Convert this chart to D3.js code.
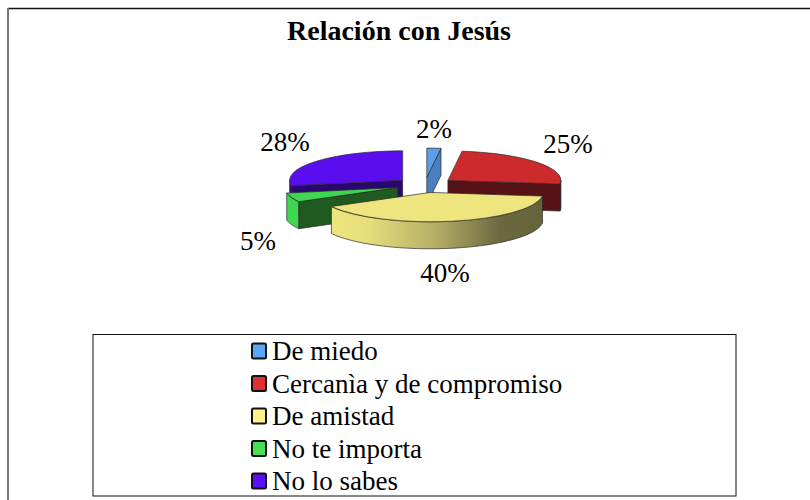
<!DOCTYPE html>
<html><head><meta charset="utf-8">
<script src="https://cdnjs.cloudflare.com/ajax/libs/d3/7.8.5/d3.min.js"></script>
<style>html,body{margin:0;padding:0;background:#fff}svg{display:block}text{font-family:"Liberation Serif","Times New Roman",serif;fill:#000}</style>
</head><body><svg id="c" width="810" height="500"></svg>
<script>
const title = "Relación con Jesús";
const categories = ["De miedo","Cercanìa y de compromiso","De amistad","No te importa","No lo sabes"];
const values = [2,25,40,5,28];
const valueLabels = ["2%","25%","40%","5%","28%"];
const topColors = ["#5B9FEA","#CC2A2D","#EEE57F","#3FD650","#5A0EF0"];
const cutColors = ["#4A80C2","#561214","#66623A","#1F5B21","#2A0770"];
const wallColors = ["#4A80C2","#561214","url(#yw)","#3FD650","#2A0770"];
const legendColors = ["#5AA5F5","#E02F33","#FFF28A","#48DE55","#5A10F8"];
const drawOrder = [4,0,1,3,2];
const labelCenters = [[434,129],[568,144],[445,273],[258,241],[285,142]];

const svg = d3.select("#c");
const cx = 425, cy = 185, R = 113, k = 0.26, depth = 27, explode = 29;

const defs = svg.append("defs");
const g = defs.append("linearGradient").attr("id","yw").attr("gradientUnits","userSpaceOnUse")
  .attr("x1",330).attr("x2",542).attr("y1",0).attr("y2",0);
[[0,"#EEE57F"],[0.17,"#E8DF7C"],[0.5,"#B5AD66"],[0.8,"#6C6840"],[1,"#66623A"]].forEach(s=>g.append("stop").attr("offset",s[0]).attr("stop-color",s[1]));

// frame
svg.append("line").attr("x1",8).attr("x2",810).attr("y1",8.5).attr("y2",8.5).attr("stroke","#111").attr("stroke-width",1.5);
svg.append("line").attr("x1",8).attr("x2",8).attr("y1",8).attr("y2",500).attr("stroke","#777").attr("stroke-width",2);

svg.append("text").attr("x",399).attr("y",40).attr("text-anchor","middle")
  .attr("font-weight","bold").attr("font-size",28).text(title);

const pie = d3.pie().sort(null).value(d=>d);
const arcs = pie(values);
const arcGen = d3.arc().innerRadius(0).outerRadius(R);
const line = d3.line();
const stroke = "#2a2a2a", sw = 0.7;

drawOrder.forEach(i=>{
  const a = arcs[i], mid = (a.startAngle+a.endAngle)/2;
  const ox = cx + explode*Math.sin(mid), oy = cy - explode*k*Math.cos(mid);
  const P = (ang,r,dz=0)=>[ox + r*Math.sin(ang), oy - r*k*Math.cos(ang) + dz];
  const cut = ang => svg.append("path")
    .attr("d", line([P(ang,0),P(ang,R),P(ang,R,depth),P(ang,0,depth)])+"Z")
    .attr("fill",cutColors[i]).attr("stroke",stroke).attr("stroke-width",sw);
  if (Math.sin(a.startAngle) < -1e-6) cut(a.startAngle);
  if (Math.sin(a.endAngle) > 1e-6) cut(a.endAngle);
  const w0 = Math.max(a.startAngle, Math.PI/2), w1 = Math.min(a.endAngle, 3*Math.PI/2);
  if (w1 > w0) {
    const sc = d3.scaleLinear().domain([0,48]).range([w0,w1]);
    const angs = d3.range(49).map(sc);
    const pts = angs.map(t=>P(t,R)).concat(angs.slice().reverse().map(t=>P(t,R,depth)));
    svg.append("path").attr("d",line(pts)+"Z").attr("fill",wallColors[i]).attr("stroke",stroke).attr("stroke-width",sw);
  }
  svg.append("path").attr("d",arcGen(a))
    .attr("transform",`translate(${ox},${oy}) scale(1,${k})`)
    .attr("fill",topColors[i]).attr("stroke",stroke).attr("stroke-width",sw)
    .attr("vector-effect","non-scaling-stroke");
});

valueLabels.forEach((t,i)=>{
  svg.append("text").attr("x",labelCenters[i][0]).attr("y",labelCenters[i][1]+9)
    .attr("text-anchor","middle").attr("font-size",27).text(t);
});

// legend
svg.append("rect").attr("x",93).attr("y",334.5).attr("width",643).attr("height",161.5)
  .attr("fill","#fff").attr("stroke","#111").attr("stroke-width",1);
const rowY = d3.scalePoint().domain(categories).range([351,481]);
categories.forEach((c,i)=>{
  const y = rowY(c);
  svg.append("rect").attr("x",252).attr("y",y-7.5).attr("width",14).attr("height",15).attr("rx",1.5)
    .attr("fill",legendColors[i]).attr("stroke","#111").attr("stroke-width",2);
  svg.append("text").attr("x",272).attr("y",y+9).attr("font-size",27).text(c);
});
</script></body></html>
